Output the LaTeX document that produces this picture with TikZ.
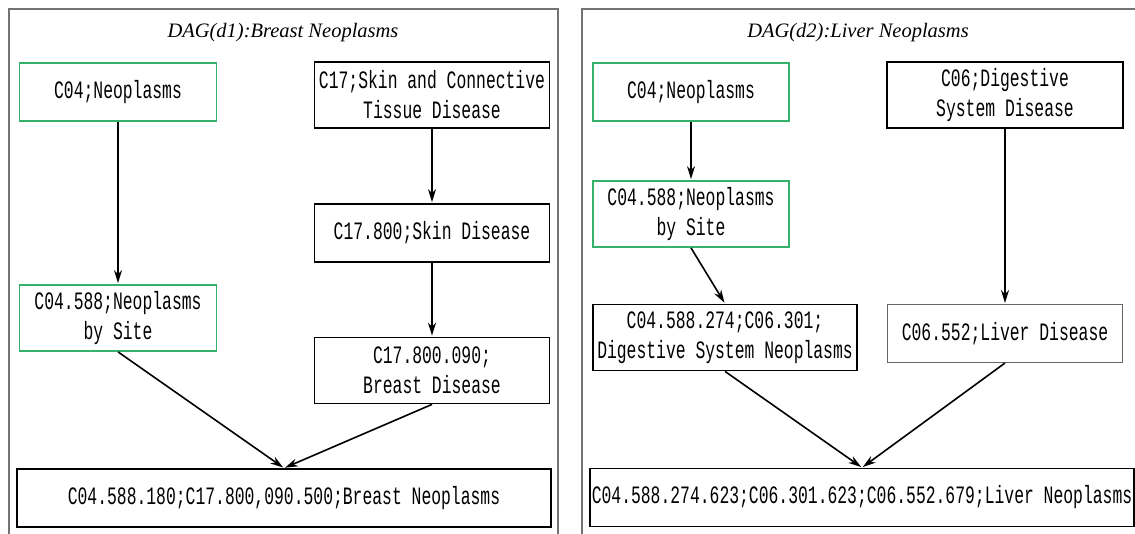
\documentclass[tikz,border=0pt]{standalone}
\usepackage{fontspec}
\setmainfont{Liberation Serif}
\newfontfamily\codefont[FakeStretch=0.655]{Liberation Mono}
\usetikzlibrary{arrows.meta}
\definecolor{meshgreen}{RGB}{52,178,108}

\begin{document}
\begin{tikzpicture}[
        x = 1pt, y = -1pt, % one unit per pixel, y downwards
        ->, % Arrow style
        > = {Stealth[length=13pt,width=8pt]}, % arrow head style
        shorten > = 1pt, % don't touch arrow head to node
        line width = 1.6pt, % line style
        font = \codefont\fontsize{25}{30}\selectfont
      ]

      \tikzstyle{term}=[rectangle,draw=black,line width=1.8pt,align=center,minimum height=58pt,inner sep=2pt]
      \tikzstyle{root}=[term,draw=meshgreen]
      \tikzstyle{twoline}=[minimum height=66pt]
      \tikzstyle{frame}=[-,draw=black!55,line width=1.2pt]
      \tikzstyle{title}=[font=\rmfamily\itshape\fontsize{20.5}{24}\selectfont]

      \useasboundingbox (0,0) rectangle (1135,534);

      % DAG(d1)
      \draw[frame] (9,545) |- (558,9) -- (558,545);
      \node[title] (t1) at (283,33) {DAG(d1):Breast Neoplasms};
      \node[root,minimum width=197pt] (l04) at (118,92) {C04;Neoplasms};
      \node[root,twoline,minimum width=197pt] (l04588) [below of=l04, node distance=226pt] {C04.588;Neoplasms\\by Site};
      \node[term,twoline,minimum width=235pt] (l17) at (432,95) {C17;Skin and Connective\\Tissue Disease};
      \node[term,minimum width=235pt] (l17800) [below of=l17, node distance=138pt] {C17.800;Skin Disease};
      \node[term,twoline,minimum width=235pt] (l17800090) [below of=l17800, node distance=137.5pt] {C17.800.090;\\Breast Disease};
      \node[term,minimum width=534pt] (lbc) at (284,498) {C04.588.180;C17.800,090.500;Breast Neoplasms};

      \path (l04) edge (l04588);
      \path (l17) edge (l17800);
      \path (l17800) edge (l17800090);
      \path (l04588.south) edge (lbc.north);
      \path (l17800090.south) edge (lbc.north);

      % DAG(d2)
      \draw[frame] (582,545) |- (1140,9);
      \node[title] (t2) at (858,33) {DAG(d2):Liver Neoplasms};
      \node[root,minimum width=196pt] (r04) at (691,92) {C04;Neoplasms};
      \node[root,twoline,minimum width=196pt] (r04588) [below of=r04, node distance=122pt] {C04.588;Neoplasms\\by Site};
      \node[term,twoline,minimum width=236pt] (r06) at (1005,95) {C06;Digestive\\System Disease};
      \node[term,twoline,minimum width=264pt] (r04588274) at (725,337.5) {C04.588.274;C06.301;\\Digestive System Neoplasms};
      \node[term,draw=black!60,line width=1pt,minimum width=235pt] (r06552) [below of=r06, node distance=238.5pt] {C06.552;Liver Disease};
      \node[term,minimum width=542pt] (rlc) at (862,497.5) {C04.588.274.623;C06.301.623;C06.552.679;Liver Neoplasms};

      \path (r04) edge (r04588);
      \path (r04588.south) edge (r04588274.north);
      \path (r06) edge (r06552);
      \path (r04588274.south) edge (rlc.north);
      \path (r06552.south) edge (rlc.north);

    \end{tikzpicture}
\end{document}
